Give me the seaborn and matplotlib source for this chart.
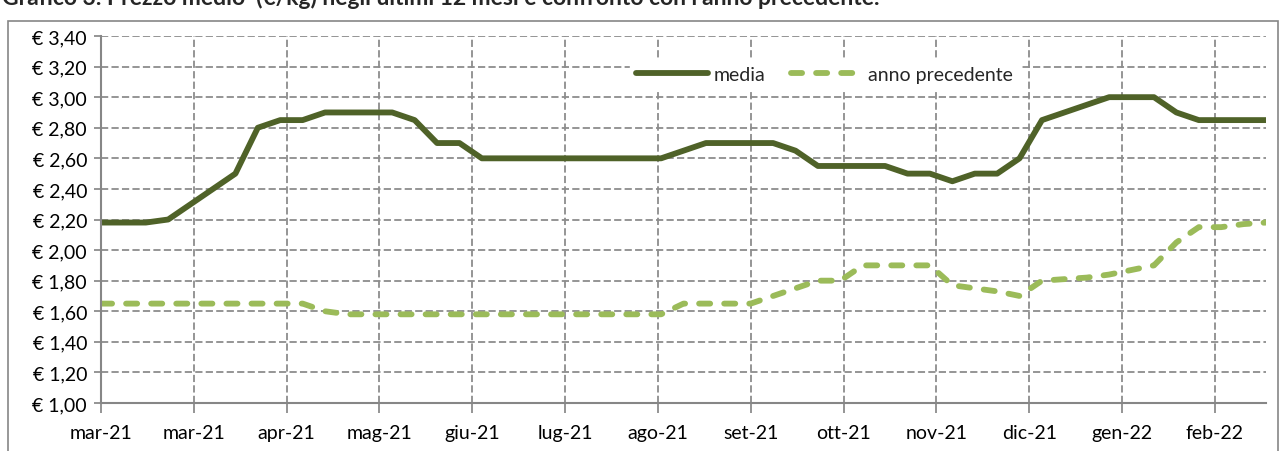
import numpy as np
import pandas as pd
import matplotlib
matplotlib.use("Agg")
import matplotlib.pyplot as plt
from matplotlib.ticker import FuncFormatter
from matplotlib.patches import Rectangle
import seaborn as sns

# weekly prices, 53 weeks (mar-21 .. feb-22)
media = [2.18, 2.18, 2.18, 2.20, 2.30, 2.40, 2.50, 2.80, 2.85, 2.85,
         2.90, 2.90, 2.90, 2.90, 2.85, 2.70, 2.70, 2.60, 2.60, 2.60,
         2.60, 2.60, 2.60, 2.60, 2.60, 2.60, 2.65, 2.70, 2.70, 2.70,
         2.70, 2.65, 2.55, 2.55, 2.55, 2.55, 2.50, 2.50, 2.45, 2.50,
         2.50, 2.60, 2.85, 2.90, 2.95, 3.00, 3.00, 3.00, 2.90, 2.85,
         2.85, 2.85, 2.85]
anno_prec = [1.65, 1.65, 1.65, 1.65, 1.65, 1.65, 1.65, 1.65, 1.65, 1.65,
             1.60, 1.58, 1.58, 1.58, 1.58, 1.58, 1.58, 1.58, 1.58, 1.58,
             1.58, 1.58, 1.58, 1.58, 1.58, 1.58, 1.65, 1.65, 1.65, 1.65,
             1.70, 1.75, 1.80, 1.80, 1.90, 1.90, 1.90, 1.90, 1.77, 1.75,
             1.73, 1.70, 1.80, 1.81, 1.82, 1.84, 1.87, 1.90, 2.05, 2.15,
             2.15, 2.17, 2.18]
settimana = list(range(len(media)))
etichette = ["mar-21", "mar-21", "apr-21", "mag-21", "giu-21", "lug-21", "ago-21",
             "set-21", "ott-21", "nov-21", "dic-21", "gen-22", "feb-22"]
titolo = "Grafico 3. Prezzo medio  (€/kg) negli ultimi 12 mesi e confronto con l'anno precedente."

sns.set_style("white")
plt.rcParams["font.family"] = ["Lato", "DejaVu Sans"]

fig = plt.figure(figsize=(12.82, 4.52), dpi=100)
ax = fig.add_axes([101/1282, 1 - 404/452, 1165/1282, 367/452])

grey = "#868686"
grid_ls = (0, (4, 1.8))
fs = 14

sns.lineplot(x=settimana, y=media, ax=ax, color="#4F6228", lw=4.2,
             label="media", solid_capstyle="round", zorder=3)
sns.lineplot(x=settimana, y=anno_prec, ax=ax, color="#9BBB59", lw=4.2,
             linestyle=(0, (1.9, 2.4)), dash_capstyle="round",
             label="anno precedente", zorder=3)

ax.set_xlim(0, 52)
ax.set_ylim(1.0, 3.4)
ax.set_yticks(np.arange(1.0, 3.41, 0.2))
ax.set_xticks(np.arange(len(etichette)) * 29 / 7)
ax.set_xticklabels(etichette)
ax.yaxis.set_major_formatter(FuncFormatter(lambda v, p: f"€ {v:.2f}".replace(".", ",")))

ax.grid(True, color="#8c8c8c", lw=1.3, linestyle=grid_ls)
ax.set_axisbelow(True)
for s in ["top", "right"]:
    ax.spines[s].set_visible(False)
for s in ["left", "bottom"]:
    ax.spines[s].set_color(grey)
    ax.spines[s].set_linewidth(1.5)
    ax.spines[s].set_zorder(4)

ax.tick_params(axis="x", length=7, width=1.3, color="#8c8c8c", pad=8,
               labelsize=fs, labelcolor="black", bottom=True)
ax.tick_params(axis="y", length=5, width=1.3, color="#8c8c8c", pad=5,
               labelsize=fs, labelcolor="black", left=True)
for t in ax.xaxis.get_major_ticks():
    t.tick1line.set_linestyle(grid_ls)
for t in ax.yaxis.get_major_ticks():
    t.tick1line.set_linestyle(grid_ls)
ax.set_xlabel("")
ax.set_ylabel("")

leg = ax.legend(loc="center", bbox_to_anchor=(0.621, 0.896), ncol=2,
                frameon=True, fontsize=fs, handlelength=3.7,
                handletextpad=0.3, columnspacing=1.3, borderpad=0.3)
leg.get_frame().set_facecolor("white")
leg.get_frame().set_edgecolor("white")
leg.get_frame().set_alpha(1)

# chart area border
fig.patches.append(Rectangle((8/1282, -0.01), 1270/1282, 1 - 22/452 + 0.01,
                             transform=fig.transFigure, fill=False,
                             edgecolor=grey, lw=1.2))
fig.text(2/1282, 1 - 5/452, titolo, fontsize=16.5, fontweight="bold",
         ha="left", va="baseline")

fig.savefig("out.png", dpi=100, facecolor="white")
